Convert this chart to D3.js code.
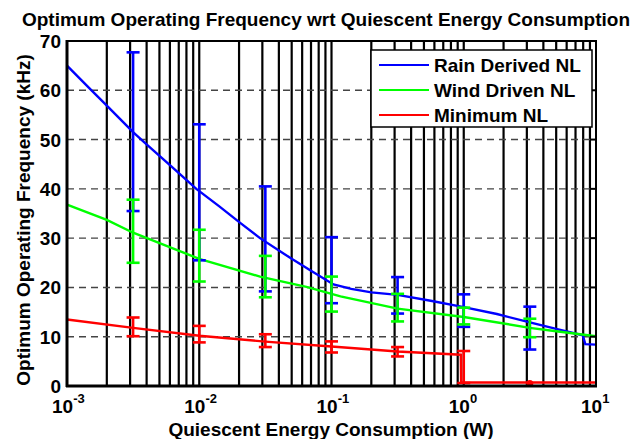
<!DOCTYPE html>
<html><head><meta charset="utf-8">
<script src="https://cdn.jsdelivr.net/npm/d3@7"></script>
<style>body{margin:0;background:#fff}svg text{font-family:"Liberation Sans",Arial,sans-serif;font-weight:bold}</style>
</head><body><svg id="c" width="635" height="439"></svg>
<script>
// ---- data ----
const title = "Optimum Operating Frequency wrt Quiescent Energy Consumption";
const xLabel = "Quiescent Energy Consumption (W)";
const yLabel = "Optimum Operating Frequency (kHz)";
const seriesNames = ["Rain Derived NL", "Wind Driven NL", "Minimum NL"];
const seriesColors = ["#0000ff", "#00ff00", "#ff0000"];
const yTicks = [0, 10, 20, 30, 40, 50, 60, 70];
const xTickExps = [-3, -2, -1, 0, 1];

const rainX = [0.001, 0.00148, 0.002, 0.00316, 0.0039, 0.0063, 0.0095, 0.0141, 0.0204, 0.0288, 0.05, 0.071, 0.1035, 0.141, 0.2, 0.316, 0.562, 1, 1.78, 3.16, 5.0, 7.94, 8.3, 10];
const rainY = [65, 60.4, 56.9, 51.5, 49.3, 44.3, 40, 36.5, 33.1, 30, 25.8, 23.3, 20.6, 19.7, 19.0, 18.5, 17.3, 16.0, 14.6, 12.9, 11.6, 10.3, 8.5, 8.4];
const windX = [0.001, 0.002, 0.00316, 0.01, 0.0288, 0.0646, 0.117, 0.316, 1, 3.16, 5.0, 10];
const windY = [36.8, 33.7, 31.1, 25.8, 22.2, 20.1, 18.2, 15.7, 14.0, 11.8, 11.1, 10.1];
const minX = [0.001, 0.00316, 0.01, 0.0316, 0.1, 0.316, 0.95, 0.955, 10];
const minY = [13.5, 11.8, 10.2, 9.0, 8.0, 7.0, 6.35, 0.7, 0.7];

const errX = [0.00316, 0.01, 0.0316, 0.1, 0.316, 1, 3.16];
const rainLo = [35.5, 25.5, 19.2, 16.8, 14.7, 12.0, 7.4];
const rainHi = [67.7, 53.1, 40.5, 30.2, 22.1, 18.6, 16.1];
const windLo = [25.0, 21.2, 18.0, 15.1, 13.1, 12.5, 9.9];
const windHi = [37.8, 31.7, 26.4, 22.2, 18.7, 15.9, 13.65];
const minLoV = [10.1, 8.85, 7.9, 6.8, 6.0, 0.6, 0.5];
const minHiV = [13.9, 12.2, 10.5, 9.05, 7.9, 7.1, 0.5];

// ---- chart ----
const svg = d3.select("#c");
const L = 67, R = 596, T = 41, B = 386;
const x = d3.scaleLog().domain([1e-3, 10]).range([L, R]);
const y = d3.scaleLinear().domain([0, 70]).range([B, T]);

// vertical grid (solid black at every log tick)
const minorTicks = x.ticks(40).filter(v => v > 1e-3 && v < 10);
svg.append("g").selectAll("line").data(minorTicks).join("line")
  .attr("x1", d => x(d)).attr("x2", d => x(d)).attr("y1", T).attr("y2", B)
  .attr("stroke", "#000").attr("stroke-width", 2.2);

// horizontal dashed grid
svg.append("g").selectAll("line").data(yTicks.filter(v => v > 0 && v < 70)).join("line")
  .attr("x1", L).attr("x2", R).attr("y1", d => y(d)).attr("y2", d => y(d))
  .attr("stroke", "#444").attr("stroke-width", 1.4).attr("stroke-dasharray", "7,5");

// series
const series = [
  {xs: rainX, ys: rainY, lo: rainLo, hi: rainHi},
  {xs: windX, ys: windY, lo: windLo, hi: windHi},
  {xs: minX, ys: minY, lo: minLoV, hi: minHiV}
];
const line = d3.line().x(d => x(d[0])).y(d => y(d[1]));
series.forEach((s, i) => {
  svg.append("path").datum(s.xs.map((v, k) => [v, s.ys[k]]))
    .attr("d", line).attr("fill", "none").attr("stroke", seriesColors[i]).attr("stroke-width", 2.4);
});
const cap = 6.5;
series.forEach((s, i) => {
  const g = svg.append("g").attr("stroke", seriesColors[i]).attr("stroke-width", 2.6);
  errX.forEach((ex, k) => {
    const cx = x(ex), y1 = y(s.lo[k]), y2 = y(s.hi[k]);
    if (s.lo[k] === s.hi[k]) {
      svg.append("circle").attr("cx", cx).attr("cy", y1).attr("r", 3.5).attr("fill", seriesColors[i]);
      return;
    }
    g.append("line").attr("x1", cx).attr("x2", cx).attr("y1", y1).attr("y2", y2);
    g.append("line").attr("x1", cx - cap).attr("x2", cx + cap).attr("y1", y1).attr("y2", y1);
    g.append("line").attr("x1", cx - cap).attr("x2", cx + cap).attr("y1", y2).attr("y2", y2);
  });
});

// frame
svg.append("rect").attr("x", L).attr("y", T).attr("width", R - L).attr("height", B - T)
  .attr("fill", "none").attr("stroke", "#000").attr("stroke-width", 2);
svg.append("line").attr("x1", L - 1).attr("x2", R + 1).attr("y1", B).attr("y2", B).attr("stroke", "#000").attr("stroke-width", 3);
svg.append("line").attr("x1", L).attr("x2", L).attr("y1", T - 1).attr("y2", B + 1).attr("stroke", "#000").attr("stroke-width", 3);
// right ticks
svg.append("g").selectAll("line").data(yTicks).join("line")
  .attr("x1", R - 6).attr("x2", R).attr("y1", d => y(d)).attr("y2", d => y(d)).attr("stroke", "#000").attr("stroke-width", 2);

// y tick labels
svg.append("g").selectAll("text").data(yTicks).join("text")
  .attr("x", L - 6).attr("y", d => y(d) + 7).attr("text-anchor", "end")
  .attr("font-size", 19).text(d => d);

// x tick labels
const xt = svg.append("g").selectAll("text").data(xTickExps).join("text")
  .attr("x", d => x(Math.pow(10, d)) - 15).attr("y", 413).attr("text-anchor", "start").attr("font-size", 19);
xt.append("tspan").text("10");
xt.append("tspan").attr("dy", -10).attr("font-size", 13).text(d => d);

// axis titles
svg.append("text").attr("x", 331).attr("y", 436).attr("text-anchor", "middle").attr("font-size", 19).text(xLabel);
svg.append("text").attr("transform", `translate(30,220) rotate(-90)`).attr("text-anchor", "middle").attr("font-size", 19).text(yLabel);
svg.append("text").attr("x", 326).attr("y", 26).attr("text-anchor", "middle").attr("font-size", 19).text(title);

// legend
const lg = svg.append("g");
lg.append("rect").attr("x", 371).attr("y", 50).attr("width", 221).attr("height", 77)
  .attr("fill", "#fff").attr("stroke", "#000").attr("stroke-width", 1.5);
seriesNames.forEach((n, i) => {
  const yy = 65 + i * 25;
  lg.append("line").attr("x1", 379).attr("x2", 429).attr("y1", yy).attr("y2", yy).attr("stroke", seriesColors[i]).attr("stroke-width", 2.2);
  lg.append("text").attr("x", 434).attr("y", yy + 7).attr("font-size", 19).text(n);
});
</script></body></html>
